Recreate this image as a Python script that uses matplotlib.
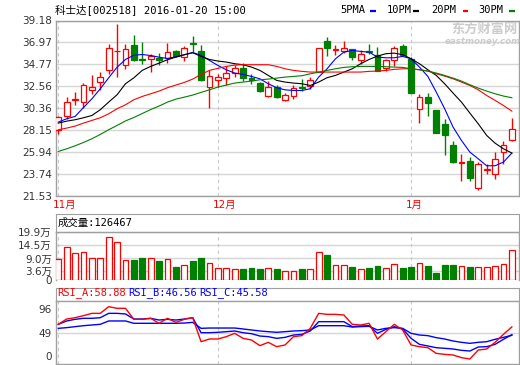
import numpy as np
import matplotlib
matplotlib.use("Agg")
import matplotlib.pyplot as plt
from matplotlib.transforms import ScaledTranslation

plt.rcParams['font.family'] = ['DejaVu Sans', 'Noto Sans CJK SC']
MONO = ['DejaVu Sans Mono', 'Noto Sans CJK SC']

W, H = 520, 365

# daily K-line of 科士达 002518, 2015-11 .. 2016-01-20 (55 trading days)
opens = [28.09, 29.50, 31.12, 30.95, 32.13, 32.97, 34.15, 36.06, 34.65, 36.67,
         35.25, 35.32, 35.42, 35.42, 36.06, 35.49, 36.87, 36.10, 32.46, 33.20,
         33.41, 33.91, 34.41, 33.37, 32.87, 31.59, 32.46, 31.19, 31.52, 32.43,
         32.53, 33.98, 37.10, 36.20, 36.10, 36.26, 35.22, 36.10, 35.66, 34.41,
         35.15, 36.57, 35.32, 30.21, 31.45, 30.18, 28.70, 26.65, 24.80, 24.99,
         22.31, 24.09, 23.72, 25.91, 27.15]
closes = [29.44, 30.92, 31.29, 32.63, 32.46, 33.44, 36.40, 36.13, 36.33, 35.15,
          35.19, 35.56, 35.15, 35.99, 35.56, 36.40, 36.80, 33.14, 33.54, 33.47,
          33.88, 34.41, 33.41, 33.14, 32.06, 32.46, 31.45, 31.62, 32.40, 32.36,
          33.20, 36.43, 36.43, 36.26, 36.43, 35.49, 35.76, 36.03, 34.08, 35.15,
          36.43, 35.66, 31.86, 31.45, 30.85, 27.82, 27.65, 24.90, 24.86, 23.32,
          24.66, 24.16, 25.23, 26.58, 28.26]
highs = [29.50, 31.45, 31.96, 32.87, 33.64, 33.98, 36.84, 38.85, 36.84, 37.68,
         37.00, 35.76, 35.89, 36.90, 36.16, 36.57, 37.61, 36.67, 34.15, 33.74,
         34.55, 34.65, 34.88, 33.81, 32.97, 33.04, 32.63, 31.89, 32.63, 33.24,
         33.47, 36.45, 37.51, 36.67, 37.10, 36.33, 36.16, 36.84, 36.50, 35.32,
         36.57, 36.84, 35.49, 31.79, 31.86, 30.20, 29.27, 27.02, 25.74, 25.40,
         24.90, 24.66, 25.91, 27.02, 29.34]
lows = [27.69, 29.27, 30.61, 30.38, 31.72, 32.19, 33.81, 33.47, 34.31, 35.09,
        34.82, 33.98, 34.65, 34.88, 35.46, 35.09, 35.99, 33.07, 30.38, 32.46,
        32.63, 33.47, 33.07, 32.80, 31.96, 31.45, 31.35, 31.05, 31.29, 32.06,
        32.30, 33.95, 35.56, 35.66, 35.89, 35.15, 34.82, 35.83, 34.05, 34.08,
        34.55, 35.56, 31.86, 28.83, 29.50, 27.80, 25.57, 24.85, 22.98, 22.98,
        22.11, 23.72, 23.22, 24.73, 27.02]

ma5 = [28.93, 29.27, 29.50, 30.40, 31.28, 32.29, 33.40, 34.47, 35.25, 35.68,
       35.75, 35.65, 35.48, 35.35, 35.52, 35.72, 35.95, 35.66, 35.15, 34.65,
       34.21, 33.88, 33.74, 33.54, 33.30, 32.80, 32.40, 32.19, 32.12, 32.12,
       32.30, 33.47, 34.31, 35.32, 35.99, 36.16, 36.06, 35.99, 35.49, 35.42,
       35.42, 35.56, 35.32, 34.48, 33.54, 31.96, 30.28, 28.43, 27.08, 25.91,
       25.23, 24.53, 24.53, 24.90, 25.81]
ma10 = [28.83, 29.03, 29.17, 29.37, 29.60, 30.18, 30.95, 31.69, 32.80, 33.40,
        34.15, 34.55, 34.88, 35.22, 35.49, 35.73, 35.93, 35.56, 35.25, 35.09,
        34.99, 34.82, 34.72, 34.48, 34.15, 33.64, 33.14, 32.97, 32.87, 32.80,
        32.63, 32.97, 33.41, 33.64, 33.98, 34.31, 34.82, 35.25, 35.59, 35.83,
        35.89, 35.73, 35.32, 34.82, 34.21, 33.64, 32.80, 31.86, 30.95, 29.84,
        28.76, 27.59, 26.81, 26.24, 25.81]
ma20 = [28.16, 28.33, 28.53, 28.83, 29.10, 29.37, 29.77, 30.28, 30.68, 31.19,
        31.52, 31.79, 32.06, 32.40, 32.67, 32.93, 33.27, 33.74, 34.15, 34.35,
        34.55, 34.68, 34.72, 34.72, 34.72, 34.72, 34.55, 34.31, 34.15, 34.05,
        33.98, 33.98, 33.98, 33.98, 33.98, 33.98, 33.98, 34.05, 34.08, 34.15,
        34.25, 34.31, 34.31, 34.21, 34.08, 33.81, 33.57, 33.30, 32.97, 32.63,
        32.19, 31.62, 31.12, 30.61, 30.04]
ma30 = [25.97, 26.24, 26.54, 26.88, 27.25, 27.69, 28.16, 28.60, 29.05, 29.40,
        29.80, 30.20, 30.55, 30.95, 31.25, 31.45, 31.66, 31.93, 32.19, 32.46,
        32.67, 32.87, 32.97, 33.07, 33.20, 33.27, 33.37, 33.47, 33.54, 33.61,
        33.80, 33.97, 34.15, 34.31, 34.45, 34.52, 34.55, 34.55, 34.55, 34.52,
        34.48, 34.45, 34.31, 34.21, 34.08, 33.88, 33.64, 33.37, 33.07, 32.70,
        32.36, 32.06, 31.79, 31.56, 31.39]

# volume in 万 shares
volume = [8.6, 13.6, 11.1, 11.8, 9.3, 9.3, 17.8, 15.7, 8.2, 8.2,
          9.1, 9.1, 7.9, 8.6, 5.4, 6.3, 7.9, 9.1, 7.1, 4.9,
          4.9, 4.5, 4.6, 5.0, 4.6, 4.9, 4.6, 3.8, 3.8, 4.6,
          4.6, 11.6, 10.4, 6.3, 6.3, 5.4, 4.5, 5.0, 5.8, 4.9,
          6.5, 5.0, 5.4, 7.1, 5.8, 2.9, 6.3, 6.3, 5.7, 5.4,
          5.3, 5.3, 5.7, 6.5, 12.65]

rsi_a = [63.0, 71.4, 73.5, 76.7, 80.4, 80.4, 91.0, 88.4, 88.4, 70.9,
         70.9, 72.5, 64.6, 72.5, 66.1, 70.9, 73.5, 35.4, 39.7, 39.7,
         43.4, 48.7, 40.7, 38.1, 29.1, 34.4, 27.5, 30.2, 43.4, 45.0,
         56.6, 80.4, 78.8, 78.8, 77.8, 63.0, 61.9, 64.6, 39.7, 51.3,
         63.0, 54.0, 30.2, 27.5, 25.9, 16.9, 15.3, 14.3, 10.1, 7.9,
         22.2, 23.8, 34.4, 47.1, 58.88]
rsi_b = [63.0, 68.3, 70.9, 72.5, 72.5, 73.5, 80.4, 80.4, 79.4, 71.4,
         71.4, 72.5, 69.8, 70.9, 69.8, 71.4, 73.5, 49.7, 49.7, 50.3,
         51.3, 52.4, 49.7, 48.1, 44.4, 43.4, 40.7, 42.3, 46.0, 47.1,
         52.4, 67.2, 67.2, 67.2, 67.2, 59.3, 60.3, 60.8, 48.7, 55.0,
         59.3, 55.6, 40.7, 31.2, 28.6, 25.9, 24.9, 23.8, 21.7, 20.6,
         27.0, 27.5, 31.2, 39.2, 46.56]
rsi_c = [56.6, 57.7, 59.3, 60.8, 61.9, 63.0, 68.3, 68.3, 68.3, 64.6,
         64.6, 64.6, 64.6, 64.6, 64.6, 65.0, 66.1, 56.6, 57.1, 57.1,
         57.1, 57.1, 55.6, 54.0, 52.4, 51.3, 50.3, 51.3, 52.4, 52.9,
         54.0, 60.8, 60.8, 60.8, 60.8, 58.7, 59.3, 59.8, 54.0, 56.6,
         57.7, 56.6, 48.7, 46.0, 45.0, 41.8, 39.7, 36.5, 34.4, 32.8,
         34.4, 35.4, 39.2, 42.3, 45.58]

month_starts = [0, 19, 42]
month_labels = ['11月', '12月', '1月']
price_ticks = [21.53, 23.74, 25.94, 28.15, 30.36, 32.56, 34.77, 36.97, 39.18]
vol_ticks = [0, 3.6, 9.0, 14.5, 19.9]
vol_labels = ['0', '3.6万', '9.0万', '14.5万', '19.9万']
rsi_ticks = [0, 49, 96]

RED = '#ff0000'
GREEN = '#008000'
GRID = '#d6d6d6'
BORDER = '#a0a0a0'
TXT = '#333333'

fig = plt.figure(figsize=(W / 100, H / 100), dpi=100)


# axes placed by pixel box (left, top, right, bottom)
def px_axes(x0, y0, x1, y1):
    return fig.add_axes([x0 / W, 1 - y1 / H, (x1 - x0) / W, (y1 - y0) / H])


def style(ax, n):
    for s in ax.spines.values():
        s.set_color(BORDER)
        s.set_linewidth(1)
    ax.tick_params(length=0, labelsize=7.5, colors=TXT, pad=3)
    ax.set_xticks([])
    ax.set_xlim(-0.27, n - 0.15)
    for m in month_starts:
        ax.axvline(m, color='#c8c8c8', lw=0.8, ls=(0, (3, 3)), zorder=1)


n = len(opens)
x = np.arange(n)
o = np.array(opens)
c = np.array(closes)
up = c >= o
edge = np.where(up, RED, GREEN)
face = np.where(up, 'white', GREEN)

# price panel
ax = px_axes(56, 20.5, 519, 195.5)
style(ax, n)
ax.set_ylim(21.53, 39.18)
ax.set_yticks(price_ticks)
ax.set_yticklabels(['%.2f' % t for t in price_ticks])
ax.grid(axis='y', color=GRID, lw=1)
ax.set_axisbelow(True)
ax.vlines(x, lows, highs, colors=edge, lw=1, zorder=2)
ax.bar(x, np.maximum(np.abs(c - o), 0.02), bottom=np.minimum(o, c), width=0.68,
       color=face, edgecolor=edge, lw=0.9, zorder=3)
ax.plot(x, ma5, color='#0000ff', lw=0.8, zorder=4)
ax.plot(x, ma10, color='black', lw=0.8, zorder=4)
ax.plot(x, ma20, color=RED, lw=0.8, zorder=4)
ax.plot(x, ma30, color=GREEN, lw=0.8, zorder=4)

# volume panel
hv = px_axes(56, 214, 519, 232.3)
hv.set_xticks([])
hv.set_yticks([])
for s in hv.spines.values():
    s.set_color(BORDER)
hv.text(0.003, 0.5, '成交量:126467', transform=hv.transAxes, va='center',
        ha='left', fontsize=7.5, family=MONO, color='black')

av = px_axes(56, 232.3, 519, 280)
style(av, n)
av.spines['bottom'].set_visible(False)
av.set_ylim(0, 19.9)
av.set_yticks(vol_ticks)
av.set_yticklabels(vol_labels)
av.grid(axis='y', color=GRID, lw=1)
av.set_axisbelow(True)
av.bar(x, volume, width=0.68, color=face, edgecolor=edge, lw=0.9, zorder=3)

# RSI panel
hr = px_axes(56, 288, 519, 301)
hr.set_xticks([])
hr.set_yticks([])
for s in hr.spines.values():
    s.set_color(BORDER)
for tx, label, col in [(0.003, 'RSI_A:58.88', RED), (0.155, 'RSI_B:46.56', '#0000ff'),
                       (0.31, 'RSI_C:45.58', '#0000ff')]:
    hr.text(tx, 0.62, label, transform=hr.transAxes, va='center', ha='left',
            fontsize=7.5, family=MONO, color=col, zorder=5)

ar = px_axes(56, 301, 519, 364)
style(ar, n)
ar.set_ylim(0, 100)
ar.set_yticks(rsi_ticks)
ar.set_yticklabels([str(t) for t in rsi_ticks])
ar.axhline(49, color=GRID, lw=1, zorder=1)
# shift labels to where the original draws them
for lab, dy in zip(ar.get_yticklabels(), [8, 0, -5.5]):
    lab.set_transform(lab.get_transform() + ScaledTranslation(0, dy / 100, fig.dpi_scale_trans))
ar.plot(x, rsi_c, color='#0000ff', lw=1, zorder=3)
ar.plot(x, rsi_b, color='#0000ff', lw=1, zorder=3)
ar.plot(x, rsi_a, color=RED, lw=1, zorder=4)

# overlay in pixel coordinates for title, legend, month labels, watermark
ov = fig.add_axes([0, 0, 1, 1])
ov.set_xlim(0, W)
ov.set_ylim(H, 0)
ov.axis('off')
ov.text(55, 9.5, '科士达[002518] 2016-01-20 15:00', fontsize=7.6, family=MONO,
        va='center', ha='left', color='black')

legend = [('5PMA', 340, '#0000ff', 370), ('10PM', 386.5, 'black', 413),
          ('20PM', 431.5, RED, 462.5), ('30PM', 478, GREEN, 509)]
for name, tx, col, dx in legend:
    ov.text(tx, 10, name, fontsize=7.5, family=MONO, va='center', ha='left', color='black')
    ov.plot([dx, dx + 5.5], [10.5, 10.5], color=col, lw=1.6, solid_capstyle='butt')

for m, lab in zip(month_starts, month_labels):
    ov.text(58.3 + 8.4 * m - 5, 205, lab, fontsize=7.5, color=RED, va='center', ha='left')

ov.text(484, 29.5, '东方财富网', fontsize=9.5, fontweight='bold', color='#cccccc',
        va='center', ha='center')
ov.text(483, 41, 'eastmoney.com', fontsize=6.2, fontweight='bold', style='italic',
        color='#cccccc', va='center', ha='center')

fig.savefig('out.png', dpi=100)
